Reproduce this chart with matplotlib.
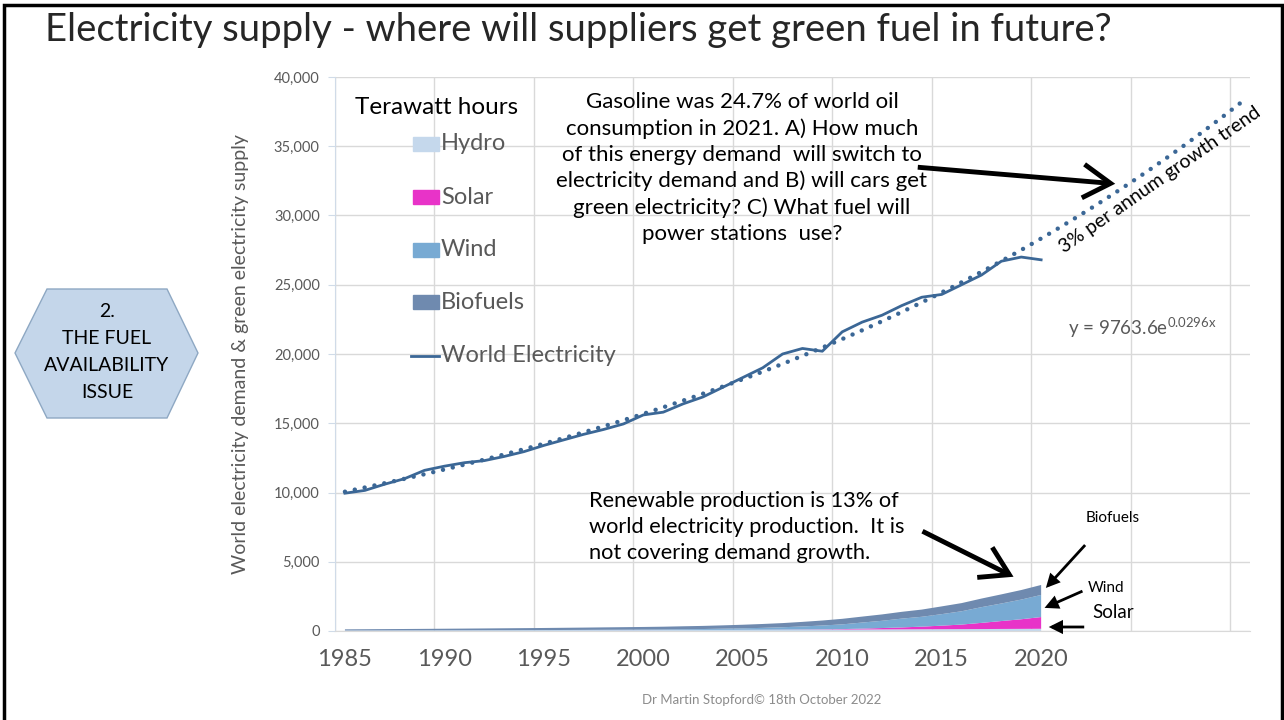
import numpy as np
import matplotlib
matplotlib.use("Agg")
import matplotlib.pyplot as plt
from matplotlib.patches import Polygon, Rectangle, FancyArrowPatch

plt.rcParams['font.family'] = ['Lato', 'DejaVu Sans']
plt.rcParams['mathtext.fontset'] = 'custom'
plt.rcParams['mathtext.rm'] = 'Lato'

# world electricity demand, TWh
years = np.arange(1985, 2021)
world = [9950, 10150, 10600, 11000, 11600, 11900, 12150, 12300, 12600, 12950,
         13400, 13800, 14200, 14550, 14950, 15600, 15800, 16400, 16900, 17600,
         18300, 19000, 20000, 20400, 20200, 21600, 22300, 22800, 23500, 24100,
         24300, 25000, 25700, 26700, 27000, 26800]

# green supply, TWh (stacked)
hydro = [40, 42, 44, 46, 48, 50, 52, 54, 56, 58, 60, 62, 64, 66, 68, 70, 72, 75,
         78, 80, 84, 88, 92, 96, 100, 105, 110, 115, 120, 125, 130, 136, 142, 148,
         154, 160]
solar = [0, 0, 0, 0, 0, 0, 0, 0, 0, 0, 0, 0, 1, 1, 1, 1, 1, 2, 2, 3, 4, 6, 8, 12,
         20, 32, 63, 99, 139, 190, 256, 329, 445, 571, 694, 848]
wind = [0, 0, 1, 1, 2, 4, 4, 5, 6, 7, 8, 12, 15, 21, 26, 31, 38, 52, 63, 85, 104,
        133, 171, 220, 277, 342, 437, 523, 637, 712, 831, 959, 1135, 1266, 1420, 1596]
biofuels = [80, 86, 92, 98, 104, 110, 118, 126, 134, 142, 150, 158, 166, 174, 182,
            190, 200, 212, 225, 240, 260, 280, 300, 330, 360, 400, 430, 460, 490,
            520, 560, 590, 620, 660, 690, 720]

# exponential trend fitted on category index (1985 -> x=1)
trend_a, trend_b = 9763.6, 0.0296

series_names = ['Hydro', 'Solar', 'Wind', 'Biofuels']
series_colors = ['#c5d8ec', '#e833c8', '#78aad3', '#6f8aaf']
line_color = '#3b6796'

W, H = 1284, 720
fig = plt.figure(figsize=(W / 100, H / 100), dpi=100)


def px(x, y):
    return (x / W, 1 - y / H)


ax = fig.add_axes([335 / W, 1 - 631 / H, 915 / W, 554 / H])

ax.stackplot(years, hydro, solar, wind, biofuels, colors=series_colors,
             labels=series_names, linewidth=0)
ax.plot(years, world, color=line_color, lw=2.0, label='World Electricity',
        solid_joinstyle='round', zorder=4)

tx = np.linspace(1985, 2030, 200)
ty = trend_a * np.exp(trend_b * (tx - 1984))
ax.plot(tx, ty, color=line_color, lw=3.2, ls=(0, (0.01, 2.25)),
        dash_capstyle='round', zorder=5)

ax.set_xlim(1984.5, 2030.5)
ax.set_ylim(0, 40000)
ax.set_xticks(np.arange(1985, 2021, 5))
ax.set_xticks(np.arange(1984.5, 2031, 5), minor=True)
ax.set_yticks(np.arange(0, 40001, 5000))
ax.yaxis.set_major_formatter(matplotlib.ticker.FuncFormatter(lambda v, p: f'{int(v):,}'))
ax.tick_params(axis='x', which='major', length=0, labelsize=17, colors='#595959', pad=13)
ax.tick_params(axis='x', which='minor', length=0)
ax.tick_params(axis='y', length=5, color='#d0dbe8', labelsize=10.5, labelcolor='#595959', pad=6)
ax.grid(True, axis='y', color='#d9d9d9', lw=1)
ax.grid(True, axis='x', which='minor', color='#d9d9d9', lw=1)
ax.set_axisbelow(True)
for s in ['top', 'right']:
    ax.spines[s].set_visible(False)
ax.spines['left'].set_color('#d0dbe8')
ax.spines['bottom'].set_color('#d9d9d9')
ax.set_ylabel('World electricity demand & green electricity supply', fontsize=14,
              color='#595959', labelpad=18)

# legend drawn by hand
fig.text(*px(437, 107), 'Terawatt hours', fontsize=17.5, ha='center', va='center')
leg_y = [144, 197, 250, 302]
for name, c, yy in zip(series_names, series_colors, leg_y):
    fig.patches.append(Rectangle(px(413, yy + 7), 26 / W, 14 / H, color=c,
                                 transform=fig.transFigure))
    fig.text(*px(441, yy), name, fontsize=17, color='#595959', va='center')
fig.lines.append(plt.Line2D([411 / W, 439 / W], [1 - 356 / H] * 2, color=line_color,
                            lw=2, transform=fig.transFigure))
fig.text(*px(441, 355), 'World Electricity', fontsize=17, color='#595959', va='center')

# title and footer
fig.text(*px(45, 30), 'Electricity supply - where will suppliers get green fuel in future?',
         fontsize=27.5, color='#262626', va='center')
fig.text(*px(762, 700), 'Dr Martin Stopford\u00a9 18th October 2022', fontsize=9.5,
         color='#8c8c8c', ha='center', va='center')

# annotations
fig.text(*px(742, 168), 'Gasoline was 24.7% of world oil\nconsumption in 2021. A) How much\n'
         'of this energy demand  will switch to\nelectricity demand and B) will cars get\n'
         'green electricity? C) What fuel will\npower stations  use?',
         fontsize=16, ha='center', va='center', linespacing=1.36)
fig.text(*px(589, 527), 'Renewable production is 13% of\nworld electricity production.  It is\n'
         'not covering demand growth.', fontsize=15.7, ha='left', va='center',
         linespacing=1.4)
fig.text(*px(1160, 180), '3% per annum growth trend', fontsize=14, rotation=35,
         ha='center', va='center')
fig.text(*px(1068, 328), r'y = 9763.6e$^{\mathrm{0.0296x}}$', fontsize=13.5,
         color='#595959', va='center')
fig.text(*px(1113, 518), 'Biofuels', fontsize=11, ha='center', va='center')
fig.text(*px(1088, 588), 'Wind', fontsize=11, ha='left', va='center')
fig.text(*px(1092, 612), 'Solar', fontsize=13.5, ha='left', va='center')


def arrow(p0, p1, lw=3.5, style='->,head_length=0.9,head_width=0.55', ms=22):
    fig.patches.append(FancyArrowPatch(px(*p0), px(*p1), arrowstyle=style,
                                       mutation_scale=ms, lw=lw, color='black',
                                       transform=fig.transFigure,
                                       joinstyle='miter', capstyle='butt'))


arrow((915, 167), (1118, 184))
arrow((920, 530), (1016, 578))
arrow((1087, 543), (1044, 590), lw=2, style='-|>,head_length=0.5,head_width=0.25', ms=14)
arrow((1085, 590), (1042, 609), lw=2, style='-|>,head_length=0.5,head_width=0.25', ms=14)
arrow((1087, 627), (1046, 627), lw=2, style='-|>,head_length=0.5,head_width=0.25', ms=14)

# hexagon badge
hexagon = [px(15, 353), px(47, 289), px(167, 289), px(198, 353), px(167, 418), px(47, 418)]
fig.patches.append(Polygon(hexagon, closed=True, facecolor='#c4d6ea', edgecolor='#8ea8c3',
                           lw=1, transform=fig.transFigure))
fig.text(*px(107, 352), '2.\nTHE FUEL\nAVAILABILITY\nISSUE', fontsize=14, ha='center',
         va='center', linespacing=1.7)

# slide border
fig.patches.append(Rectangle(px(4, 730), 1278 / W, 725 / H, fill=False, edgecolor='black',
                             lw=2.5, transform=fig.transFigure))

fig.savefig('out.png', dpi=100)
